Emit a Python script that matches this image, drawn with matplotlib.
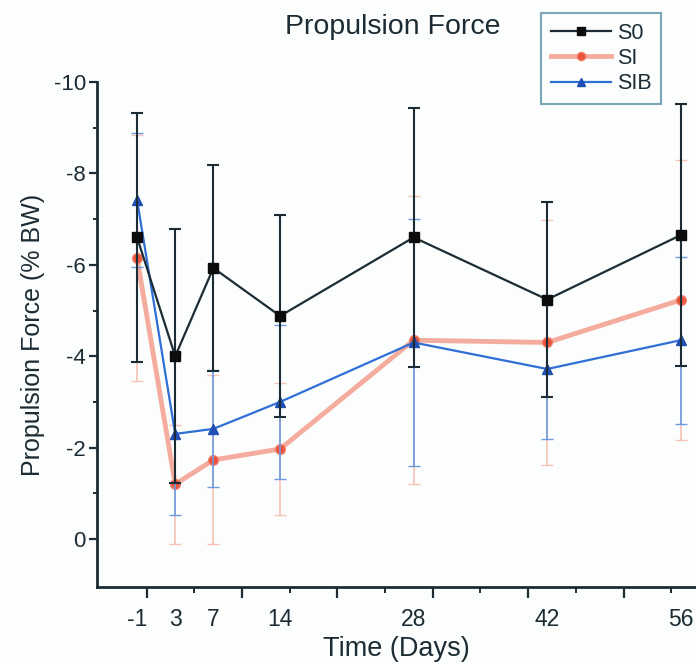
import matplotlib
matplotlib.use("Agg")
import matplotlib.pyplot as plt
import numpy as np

plt.rcParams['font.family'] = ['Liberation Sans', 'DejaVu Sans']
plt.rcParams['axes.unicode_minus'] = False

days = [-1, 3, 7, 14, 28, 42, 56]
day_labels = ["-1", "3", "7", "14", "28", "42", "56"]

s0_mean = [-6.6, -4.0, -5.93, -4.88, -6.6, -5.24, -6.65]
s0_err = [2.72, 2.78, 2.25, 2.22, 2.84, 2.13, 2.86]

si_mean = [-6.15, -1.2, -1.73, -1.97, -4.35, -4.3, -5.23]
si_err = [2.7, 1.3, 1.85, 1.45, 3.15, 2.68, 3.06]

sib_mean = [-7.42, -2.3, -2.41, -3.0, -4.3, -3.72, -4.35]
sib_err = [1.46, 1.78, 1.28, 1.69, 2.7, 1.53, 1.83]

yticks = [0, -2, -4, -6, -8, -10]
ytick_labels = ["0", "-2", "-4", "-6", "-8", "-10"]

dark = "#1c2c34"
bg = "#fcfdfd"

fig = plt.figure(figsize=(6.96, 6.64), dpi=100, facecolor=bg)
ax = fig.add_axes([97/696, 77/664, 1 - 97/696, (587 - 82)/664])
ax.set_facecolor(bg)

# SI (salmon)
ax.errorbar(days, si_mean, yerr=si_err, fmt='none', ecolor="#f7c2b6",
            elinewidth=1.2, capsize=4, capthick=1.0, zorder=2)
h_si, = ax.plot(days, si_mean, color="#f4a394", lw=3.5, alpha=0.9,
                marker='o', markersize=7, markerfacecolor="#e8482e",
                markeredgecolor="#f07a64", zorder=3, label="SI")
# SIB (blue)
ax.errorbar(days, sib_mean, yerr=sib_err, fmt='none', ecolor="#6d9be0",
            elinewidth=1.2, capsize=4, capthick=1.0, zorder=4)
h_sib, = ax.plot(days, sib_mean, color="#2f6fd6", lw=1.6,
                 marker='^', markersize=7.5, markerfacecolor="#1f4fb4",
                 markeredgecolor="#1f4fb4", zorder=5, label="SIB")
# S0 (black)
ax.errorbar(days, s0_mean, yerr=s0_err, fmt='none', ecolor=dark,
            elinewidth=1.5, capsize=4.5, capthick=1.5, zorder=6)
h_s0, = ax.plot(days, s0_mean, color=dark, lw=1.6,
                marker='s', markersize=6.5, markerfacecolor="#0c0c0c",
                markeredgecolor="#0c0c0c", zorder=7, label="S0")

ax.set_xlim(-5.2, 57.6)
ax.set_ylim(1.05, -10)

for sp in ['top', 'right']:
    ax.spines[sp].set_visible(False)
for sp in ['left', 'bottom']:
    ax.spines[sp].set_color(dark)
    ax.spines[sp].set_linewidth(2.0)

ax.set_yticks(yticks)
ax.set_yticklabels(ytick_labels)
ax.set_yticks([-1, -3, -5, -7, -9], minor=True)
ax.tick_params(axis='y', which='major', direction='out', length=6, width=1.6,
               color=dark, labelsize=16, labelcolor=dark, pad=2)
ax.tick_params(axis='y', which='minor', direction='out', length=3, width=1.4,
               color=dark)

ax.set_xticks(days)
ax.set_xticklabels(day_labels)
ax.tick_params(axis='x', which='major', length=0, labelsize=16.5,
               labelcolor=dark, pad=15)

sec = ax.secondary_xaxis('bottom')
sec.set_xticks([0, 10, 20, 30, 40, 50])
sec.set_xticks([5, 15, 25, 35, 45, 55], minor=True)
sec.set_xticklabels([])
sec.spines['bottom'].set_visible(False)
sec.tick_params(axis='x', which='major', direction='out', length=8, width=1.6,
                color=dark)
sec.tick_params(axis='x', which='minor', direction='out', length=4, width=1.4,
                color=dark)

ax.set_xlabel("Time (Days)", fontsize=19.5, color=dark, labelpad=4)
ax.set_ylabel("Propulsion Force (% BW)", fontsize=18, color=dark, labelpad=6)

fig.text(393/696, 1 - 27/664, "Propulsion Force", fontsize=20.5, color=dark,
         ha='center', va='center')

leg = fig.legend(handles=[h_s0, h_si, h_sib], labels=["S0", "SI", "SIB"],
                 loc='upper right', bbox_to_anchor=(661/696, 1 - 13/664),
                 borderaxespad=0,
                 fontsize=15.5, frameon=True, fancybox=False, handlelength=2.8,
                 handletextpad=0.25, borderpad=0.45, labelspacing=0.2,
                 markerscale=0.85)
leg.get_frame().set_edgecolor("#5a8fa8")
leg.get_frame().set_linewidth(1.5)
leg.get_frame().set_facecolor(bg)
for t in leg.get_texts():
    t.set_color(dark)

fig.savefig("out.png", dpi=100, facecolor=bg)
